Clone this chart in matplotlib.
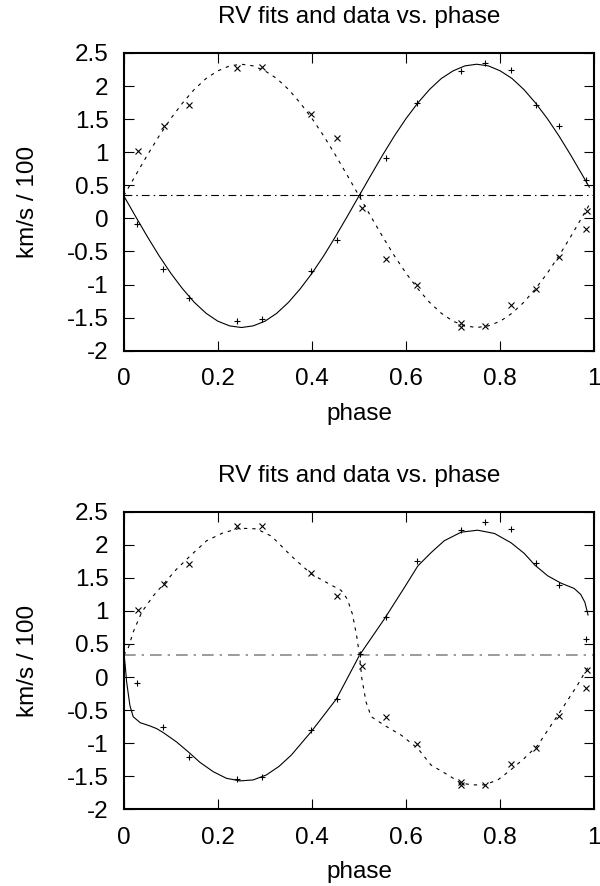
import numpy as np
import matplotlib
matplotlib.use("Agg")
import matplotlib.pyplot as plt

# --- data ----------------------------------------------------------------

# observed radial velocities (km/s / 100), primary "+" and secondary "x"
obs_phase_prim = [0.028, 0.083, 0.138, 0.240, 0.293, 0.397, 0.453, 0.503,
                  0.557, 0.624, 0.717, 0.768, 0.822, 0.876, 0.925, 0.983]
obs_rv_prim = [-0.09, -0.76, -1.21, -1.545, -1.515, -0.80, -0.33, 0.35,
               0.905, 1.75, 2.23, 2.35, 2.24, 1.72, 1.39, 0.58]

obs_phase_sec = [0.030, 0.085, 0.138, 0.241, 0.293, 0.397, 0.454, 0.506,
                 0.557, 0.624, 0.717, 0.717, 0.768, 0.822, 0.876, 0.925,
                 0.983, 0.984]
obs_rv_sec = [1.02, 1.40, 1.71, 2.28, 2.29, 1.58, 1.22, 0.16,
              -0.61, -1.01, -1.585, -1.635, -1.625, -1.31, -1.07, -0.59,
              -0.16, 0.105]

# top panel: circular fit
fit_phase_top = [0.0, 0.025, 0.05, 0.075, 0.1, 0.125, 0.15, 0.175, 0.2, 0.225,
                 0.25, 0.275, 0.3, 0.325, 0.35, 0.375, 0.4, 0.425, 0.45, 0.475,
                 0.5, 0.525, 0.55, 0.575, 0.6, 0.625, 0.65, 0.675, 0.7, 0.725,
                 0.75, 0.775, 0.8, 0.825, 0.85, 0.875, 0.9, 0.925, 0.95, 0.975,
                 0.99]
fit_prim_top = [0.34, 0.03, -0.275, -0.565, -0.83, -1.065, -1.27, -1.435, -1.555, -1.625,
                -1.65, -1.625, -1.555, -1.435, -1.27, -1.065, -0.83, -0.565, -0.275, 0.03,
                0.34, 0.65, 0.955, 1.245, 1.51, 1.745, 1.95, 2.115, 2.23, 2.305,
                2.33, 2.305, 2.23, 2.115, 1.95, 1.745, 1.51, 1.245, 0.955, 0.65,
                0.465]
fit_sec_top = [0.34, 0.65, 0.955, 1.245, 1.51, 1.745, 1.95, 2.115, 2.23, 2.305,
               2.33, 2.305, 2.23, 2.115, 1.95, 1.745, 1.51, 1.245, 0.955, 0.65,
               0.34, 0.03, -0.275, -0.565, -0.83, -1.065, -1.27, -1.435, -1.555, -1.625,
               -1.65, -1.625, -1.555, -1.435, -1.27, -1.065, -0.83, -0.565, -0.275, 0.03,
               0.215]
gamma_top = 0.35

# bottom panel: eccentric fit
fit_phase_prim_bot = [0.0, 0.003, 0.006, 0.013, 0.02, 0.035, 0.056, 0.07, 0.084, 0.112,
                      0.137, 0.162, 0.19, 0.218, 0.247, 0.275, 0.303, 0.33, 0.356, 0.399,
                      0.452, 0.501, 0.554, 0.597, 0.625, 0.653, 0.681, 0.717, 0.752, 0.788,
                      0.823, 0.851, 0.874, 0.901, 0.929, 0.957, 0.971, 0.980, 0.987]
fit_prim_bot = [0.38, 0.18, -0.07, -0.43, -0.60, -0.69, -0.74, -0.78, -0.84, -0.98,
                -1.13, -1.29, -1.43, -1.53, -1.57, -1.555, -1.48, -1.35, -1.18, -0.82,
                -0.33, 0.33, 0.88, 1.36, 1.68, 1.88, 2.06, 2.19, 2.22, 2.17,
                2.03, 1.87, 1.69, 1.53, 1.42, 1.34, 1.25, 1.13, 0.93]
fit_phase_sec_bot = [0.0, 0.01, 0.02, 0.038, 0.063, 0.084, 0.112, 0.141, 0.176, 0.211,
                     0.247, 0.282, 0.314, 0.356, 0.399, 0.441, 0.462, 0.475, 0.486, 0.495,
                     0.501, 0.506, 0.515, 0.526, 0.554, 0.59, 0.625, 0.653, 0.689, 0.717,
                     0.742, 0.766, 0.795, 0.823, 0.851, 0.88, 0.908, 0.936, 0.964, 0.989]
fit_sec_bot = [0.33, 0.45, 0.68, 0.98, 1.23, 1.40, 1.63, 1.83, 2.06, 2.18,
               2.25, 2.24, 2.13, 1.83, 1.555, 1.39, 1.31, 1.18, 0.95, 0.62,
               0.33, -0.025, -0.38, -0.60, -0.73, -0.88, -1.08, -1.33, -1.48, -1.605,
               -1.63, -1.63, -1.555, -1.40, -1.23, -1.03, -0.73, -0.43, -0.125, 0.18]
gamma_bot = 0.33

x_ticks = [0, 0.2, 0.4, 0.6, 0.8, 1]
x_tick_labels = ["0", "0.2", "0.4", "0.6", "0.8", "1"]
y_ticks = [-2, -1.5, -1, -0.5, 0, 0.5, 1, 1.5, 2, 2.5]
y_tick_labels = ["-2", "-1.5", "-1", "-0.5", "0", "0.5", "1", "1.5", "2", "2.5"]

title = "RV fits and data vs. phase"
x_label = "phase"
y_label = "km/s / 100"

# --- drawing ---------------------------------------------------------------

plt.rcParams["font.family"] = ["Liberation Sans", "DejaVu Sans"]
plt.rcParams["font.size"] = 17.5


def draw_panel(ax, phase_prim, prim, phase_sec, sec, gamma, gamma_color, gamma_lw):
    # fitted curves
    ax.plot(phase_prim, prim, color="black", lw=0.8, solid_capstyle="butt")
    ax.plot(phase_sec, sec, color="black", lw=0.8, linestyle=(0, (3, 4.5)))
    # systemic velocity
    ax.axhline(gamma, color=gamma_color, lw=gamma_lw, linestyle=(0, (7, 3.6, 1.4, 3.6)))
    # observations
    ax.plot(obs_phase_prim, obs_rv_prim, linestyle="none", marker="+",
            ms=5, mew=0.8, color="black")
    ax.plot(obs_phase_sec, obs_rv_sec, linestyle="none", marker="x",
            ms=4, mew=0.8, color="black")

    ax.set_xlim(0, 1)
    ax.set_ylim(-2, 2.5)
    ax.set_xticks(x_ticks)
    ax.set_xticklabels(x_tick_labels)
    ax.set_yticks(y_ticks)
    ax.set_yticklabels(y_tick_labels)
    ax.tick_params(direction="in", top=True, right=True, length=7, width=0.8)
    ax.tick_params(axis="x", pad=12.5)
    ax.tick_params(axis="y", pad=11)
    for s in ax.spines.values():
        s.set_linewidth(1.5)

    ax.set_title(title, fontsize=17.5, pad=21.5)
    ax.set_xlabel(x_label, labelpad=9)
    ax.set_ylabel(y_label, labelpad=20)


fig = plt.figure(figsize=(6, 8.86), dpi=100)
ax1 = fig.add_axes([0.2063, 0.6042, 0.7842, 0.3360])
ax2 = fig.add_axes([0.2063, 0.0865, 0.7842, 0.3360])

draw_panel(ax1, fit_phase_top, fit_prim_top, fit_phase_top, fit_sec_top,
           gamma_top, "black", 0.8)
draw_panel(ax2, fit_phase_prim_bot, fit_prim_bot, fit_phase_sec_bot, fit_sec_bot,
           gamma_bot, "#8a8a8a", 1.2)

fig.savefig("out.png", dpi=100)
